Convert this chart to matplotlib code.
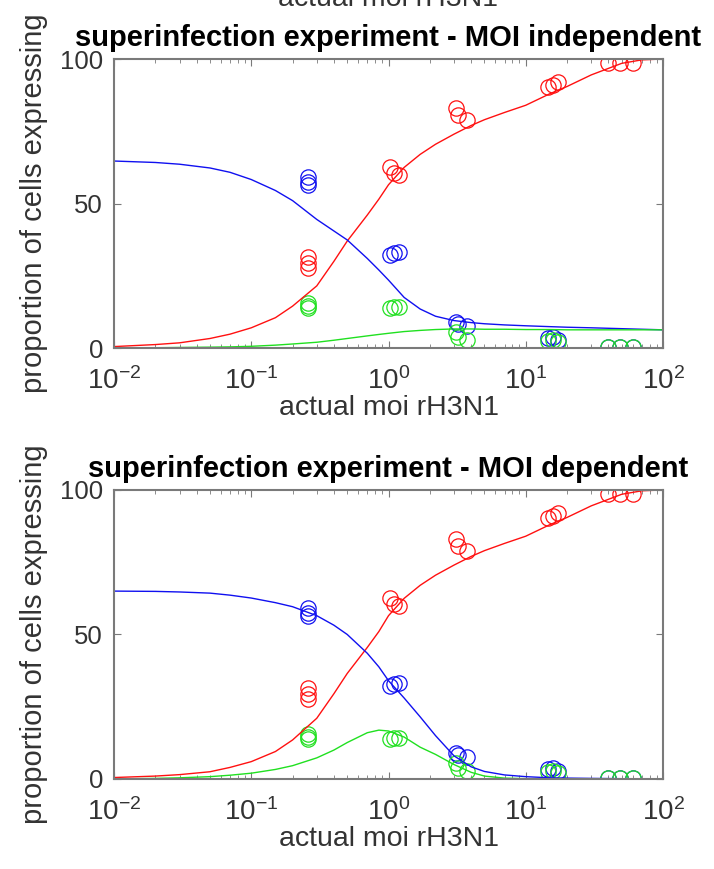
import matplotlib
matplotlib.use("Agg")
import matplotlib.pyplot as plt
import numpy as np

plt.rcParams["font.family"] = ["Liberation Sans", "DejaVu Sans"]

# measured points (same data in both panels)
moi = [0.26, 0.26, 0.26, 1.02, 1.1, 1.2, 3.1, 3.2, 3.7,
       14.5, 15.9, 17.3, 39.5, 48.6, 60.5]
red_pts = [31.5, 29.4, 27.7, 62.6, 60.6, 59.9, 83, 80.6, 79,
           90.3, 91, 92, 98.5, 98.5, 98.5]
blue_pts = [59.2, 56.4, 57.5, 32.2, 32.9, 33.2, 9, 8.3, 7.5,
            3.5, 3.8, 2.8, 0.3, 0.3, 0.3]
green_pts = [15.6, 13.8, 14.5, 13.8, 14.2, 14.2, 5.5, 3.8, 2.8,
             2.4, 2.9, 2.2, 0.2, 0.2, 0.2]

# fitted curves
moi_fit = [0.01, 0.02, 0.03, 0.05, 0.07, 0.1, 0.15, 0.2, 0.3, 0.4, 0.5, 0.7, 0.85,
           1, 1.3, 1.7, 2.2, 3, 4, 5, 7, 10, 15, 20, 30, 50, 70, 100]

red_indep = [0.5, 1.2, 1.8, 3.3, 4.8, 7, 10.5, 14.5, 21.5, 30, 37, 46, 51.5,
             56.5, 62.5, 67, 70.5, 74, 77, 79, 81.5, 84, 88, 90.5, 94.5, 98.5, 99.7, 100]
blue_indep = [64.7, 64.2, 63.6, 62.3, 60.8, 58.3, 54.5, 51, 44.5, 40.5, 37.4, 31, 27,
              23.5, 17.5, 13.5, 11, 9.5, 8.8, 8.4, 8, 7.7, 7.4, 7.2, 7, 6.7, 6.5, 6.3]
green_indep = [0, 0.1, 0.2, 0.3, 0.4, 0.6, 1, 1.4, 2, 2.7, 3.3, 4.2, 4.7,
               5.1, 5.7, 6.1, 6.4, 6.6, 6.6, 6.5, 6.5, 6.4, 6.4, 6.3, 6.3, 6.3, 6.3, 6.3]

red_dep = [0.5, 1.0, 1.5, 2.5, 4, 6, 9.5, 13.5, 21, 29.5, 36.5, 45.5, 51,
           56.5, 62.5, 67, 70.5, 74, 77, 79, 81.5, 84, 88, 90.5, 94.5, 98.5, 99.7, 100]
blue_dep = [65, 64.9, 64.7, 64.3, 63.6, 62.6, 61, 59.6, 56.5, 53.2, 50, 43.5, 38.8,
            34, 28, 21.5, 15, 8, 4.2, 2.6, 1.4, 0.8, 0.4, 0.3, 0.2, 0.1, 0, 0]
green_dep = [0, 0.2, 0.4, 0.8, 1.3, 2, 3.3, 4.6, 7.3, 10, 12.6, 16, 16.9,
             16.6, 14.5, 11, 8.5, 5, 2.3, 1, 0.3, 0.1, 0, 0, 0, 0, 0, 0]

titles = ["superinfection experiment - MOI independent",
          "superinfection experiment - MOI dependent"]
fits = [(red_indep, blue_indep, green_indep), (red_dep, blue_dep, green_dep)]

c_red = "#ff1010"
c_blue = "#1010f0"
c_green = "#20e020"
frame = "#7a7a7a"
txt = "#333333"

fig = plt.figure(figsize=(7.14, 8.69), dpi=100)
rects = [[0.1597, 0.5995, 0.7689, 0.3326], [0.1597, 0.1036, 0.7689, 0.3326]]

for rect, title, (r, b, g) in zip(rects, titles, fits):
    ax = fig.add_axes(rect)
    ax.plot(moi, red_pts, "o", mfc="none", mec=c_red, ms=11, mew=0.9)
    ax.plot(moi, blue_pts, "o", mfc="none", mec=c_blue, ms=11, mew=0.9)
    ax.plot(moi, green_pts, "o", mfc="none", mec=c_green, ms=11, mew=0.9)
    ax.plot(moi_fit, r, color=c_red, lw=1.0)
    ax.plot(moi_fit, b, color=c_blue, lw=1.0)
    ax.plot(moi_fit, g, color=c_green, lw=1.0)

    ax.set_xscale("log")
    ax.set_xlim(0.01, 100)
    ax.set_ylim(0, 100)
    ax.set_yticks([0, 50, 100])
    ax.set_xticks([0.01, 0.1, 1, 10, 100])

    for s in ax.spines.values():
        s.set_color(frame)
        s.set_linewidth(1.5)
    ax.tick_params(which="both", direction="in", top=True, right=True,
                   color=frame, labelcolor=txt)
    ax.tick_params(which="major", length=5, width=0.8)
    ax.tick_params(which="minor", length=3, width=0.6)
    ax.tick_params(axis="x", pad=14, labelsize=20)
    ax.tick_params(axis="y", pad=8, labelsize=18.5)

    ax.set_title(title, fontsize=21, fontweight="bold", pad=9.5)
    ax.set_xlabel("actual moi rH3N1", fontsize=20.5, color=txt, labelpad=0)
    ax.set_ylabel("proportion of cells expressing", fontsize=21, color=txt)
    ax.yaxis.set_label_coords(-0.12, 0.5)

# cut-off xlabel of the panel above
fig.text(388 / 714, 1 - 6 / 869, "actual moi rH3N1", fontsize=20.5,
         color=txt, ha="center", va="baseline")

fig.savefig("out.png", dpi=100)
